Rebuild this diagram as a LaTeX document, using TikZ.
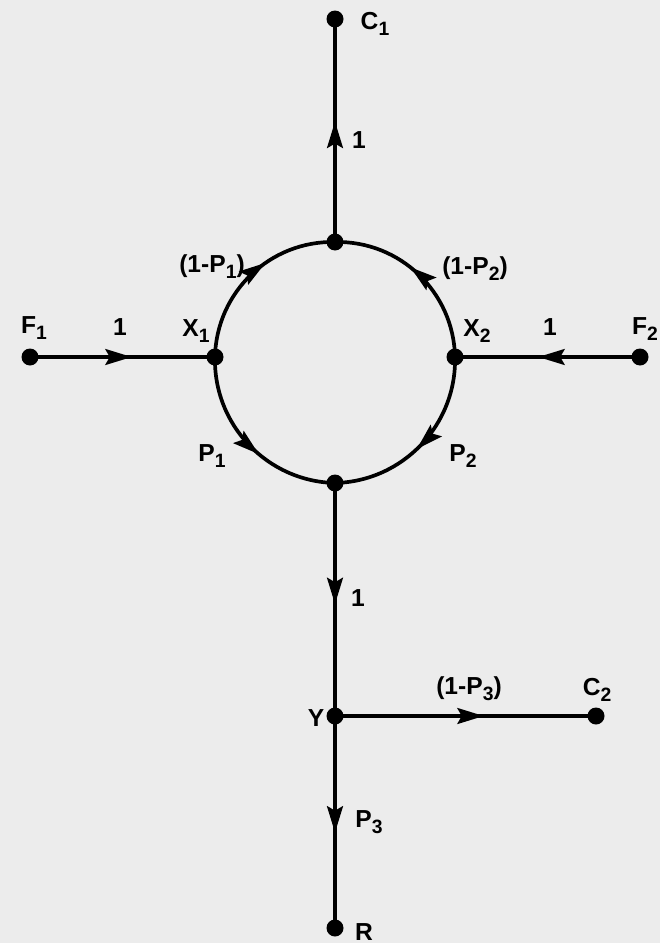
\documentclass[tikz,border=0pt]{standalone}
\usepackage{fontspec}
\setmainfont{Liberation Sans}
\usetikzlibrary{arrows.meta,decorations.markings}
\definecolor{paper}{RGB}{236,236,236}
\newcommand\lowidx[1]{\raisebox{-0.45ex}{\fontsize{11}{12}\selectfont #1}}
\tikzset{
  dot/.style={circle,fill=black,minimum size=0.34cm,inner sep=0pt},
  lbl/.style={font=\fontsize{14}{16}\selectfont\bfseries,inner sep=0pt},
  edge/.style={line width=2.1pt,black},
  midarrow/.style={postaction={decorate},decoration={markings,
     mark=at position #1 with {\arrow{Stealth[length=15pt,width=9pt,inset=2.5pt]}}}}
}
\begin{document}
\begin{tikzpicture}[x=0.02cm,y=-0.02cm]
\fill[paper] (0,0) rectangle (660,943);
\useasboundingbox (0,0) rectangle (660,943);
% nodes
\node[dot] (C1) at (335,19) {};
\node[dot] (T) at (335,242) {};
\node[dot] (X1) at (215,357) {};
\node[dot] (X2) at (455,357) {};
\node[dot] (B) at (335,483) {};
\node[dot] (F1) at (30,357) {};
\node[dot] (F2) at (640,357) {};
\node[dot] (Y) at (335,716) {};
\node[dot] (C2) at (596,716) {};
\node[dot] (R) at (335,928) {};
% edges
\draw[edge,midarrow=0.54] (T.center) -- (C1.center);
\draw[edge,midarrow=0.55] (F1.center) -- (X1.center);
\draw[edge,midarrow=0.55] (F2.center) -- (X2.center);
\draw[edge,midarrow=0.6] (X1.center) to[bend left=45] (T.center);
\draw[edge,midarrow=0.56] (X2.center) to[bend right=45] (T.center);
\draw[edge,midarrow=0.57] (X1.center) to[bend right=45] (B.center);
\draw[edge,midarrow=0.53] (X2.center) to[bend left=45] (B.center);
\draw[edge,midarrow=0.52] (B.center) -- (Y.center);
\draw[edge,midarrow=0.57] (Y.center) -- (C2.center);
\draw[edge,midarrow=0.55] (Y.center) -- (R.center);
% labels
\node[lbl] (lC1) at (375,24) {C\lowidx{1}};
\node[lbl] (l1t) at (359,140) {1};
\node[lbl] (lq1) at (212,267) {(1-P\lowidx{1})};
\node[lbl] (lq2) at (475,269) {(1-P\lowidx{2})};
\node[lbl] (lX1) at (196,331) {X\lowidx{1}};
\node[lbl] (lX2) at (477,331) {X\lowidx{2}};
\node[lbl] (lP1) at (212,456) {P\lowidx{1}};
\node[lbl] (lP2) at (463,456) {P\lowidx{2}};
\node[lbl] (lF1) at (34,328) {F\lowidx{1}};
\node[lbl] (l1l) at (120,327) {1};
\node[lbl] (lF2) at (645,329) {F\lowidx{2}};
\node[lbl] (l1r) at (550,327) {1};
\node[lbl] (l1b) at (358,598) {1};
\node[lbl] (lY) at (316,718) {Y};
\node[lbl] (lq3) at (469,689) {(1-P\lowidx{3})};
\node[lbl] (lC2) at (597,690) {C\lowidx{2}};
\node[lbl] (lP3) at (369,822) {P\lowidx{3}};
\node[lbl] (lR) at (364,932) {R};
\end{tikzpicture}
\end{document}
